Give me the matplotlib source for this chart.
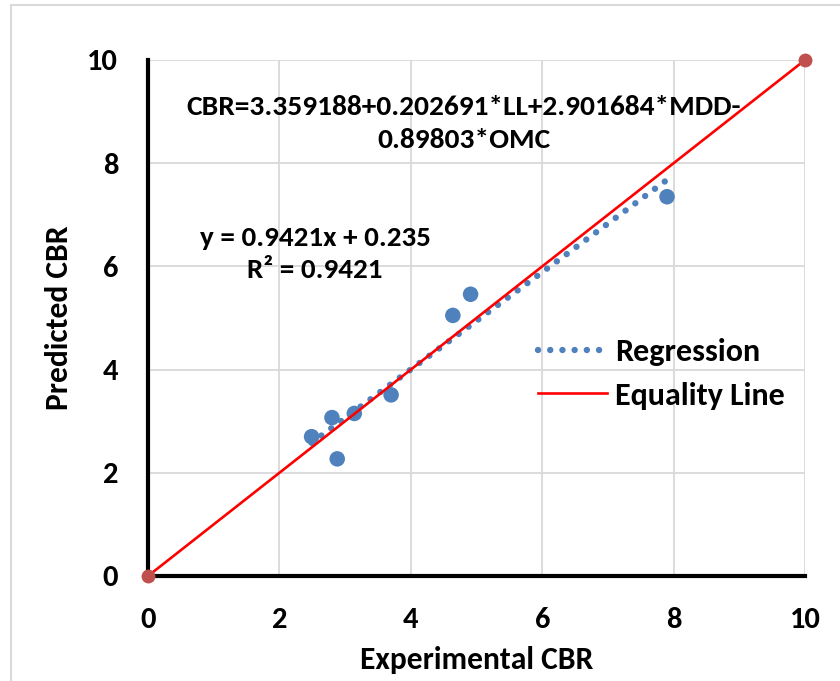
import matplotlib
matplotlib.use('Agg')
import matplotlib.pyplot as plt
from matplotlib.lines import Line2D
from matplotlib.patches import Rectangle

plt.rcParams['font.family'] = ['Carlito', 'DejaVu Sans']
plt.rcParams['font.weight'] = 'bold'

# data
exp_cbr = [2.49, 2.80, 2.88, 3.14, 3.70, 4.64, 4.91, 7.90]
pred_cbr = [2.70, 3.07, 2.27, 3.15, 3.51, 5.05, 5.46, 7.35]
eq_x = [0, 10]
eq_y = [0, 10]
slope = 0.9421
intercept = 0.235
ticks = [0, 2, 4, 6, 8, 10]

fig = plt.figure(figsize=(8.4, 6.81), dpi=100)
ax = fig.add_axes([148/840, 1 - 576/681, (805-148)/840, (576-60)/681])

# outer chart border (light grey, runs off right / bottom)
fig.patches.append(Rectangle((11/840, -0.05), 1.0, 1 - 5/681 + 0.05,
                             transform=fig.transFigure, fill=False,
                             edgecolor='#d9d9d9', lw=1.5))

ax.scatter(exp_cbr, pred_cbr, s=125, color='#4f81bd', edgecolors='none', zorder=3)

# trendline over range of the data
tx = [min(exp_cbr), max(exp_cbr)]
ty = [slope * v + intercept for v in tx]
ax.plot(tx, ty, color='#4f81bd', lw=4.6, dashes=(0.01, 1.9),
        dash_capstyle='round', zorder=4)

ax.plot(eq_x, eq_y, color='red', lw=1.9, zorder=5, clip_on=False)
ax.plot(eq_x, eq_y, 'o', color='#c0504d', ms=10, mec='none', zorder=6, clip_on=False)

ax.set_xlim(0, 10)
ax.set_ylim(0, 10)
ax.set_xticks(ticks)
ax.set_yticks(ticks)
ax.grid(True, color='#d9d9d9', lw=1.3)
ax.set_axisbelow(True)
for s in ['top', 'right']:
    ax.spines[s].set_visible(False)
for s in ['left', 'bottom']:
    ax.spines[s].set_linewidth(3)
    ax.spines[s].set_color('black')
ax.tick_params(length=0, labelsize=22)
ax.tick_params(axis='x', pad=22)
ax.tick_params(axis='y', pad=21.5)
for lab in ax.get_xticklabels() + ax.get_yticklabels():
    lab.set_fontweight('bold')

ax.set_xlabel('Experimental CBR', fontsize=22.7, fontweight='bold', labelpad=10)
ax.set_ylabel('Predicted CBR', fontsize=22.7, fontweight='bold', labelpad=10)

ax.text(464/840, 1 - 123.5/681, 'CBR=3.359188+0.202691*LL+2.901684*MDD-\n0.89803*OMC',
        transform=fig.transFigure, ha='center', va='center', fontsize=21.2,
        fontweight='bold', linespacing=1.48, multialignment='center')
ax.text(315/840, 1 - 254/681, 'y = 0.9421x + 0.235\nR² = 0.9421',
        transform=fig.transFigure, ha='center', va='center', fontsize=21,
        fontweight='bold', linespacing=1.45, multialignment='center')

handles = [Line2D([], [], color='#4f81bd', lw=4.6, dashes=(0.01, 1.9), dash_capstyle='round'),
           Line2D([], [], color='red', lw=1.9)]
leg = ax.legend(handles, ['Regression', 'Equality Line'], loc='center left',
                frameon=False, fontsize=23, handlelength=2.16, handletextpad=0.25,
                labelspacing=0.48, borderaxespad=0, borderpad=0)
leg.set_bbox_to_anchor((538/840, 1 - 374/681), transform=fig.transFigure)
for t in leg.get_texts():
    t.set_fontweight('bold')

fig.savefig('out.png', dpi=100)
